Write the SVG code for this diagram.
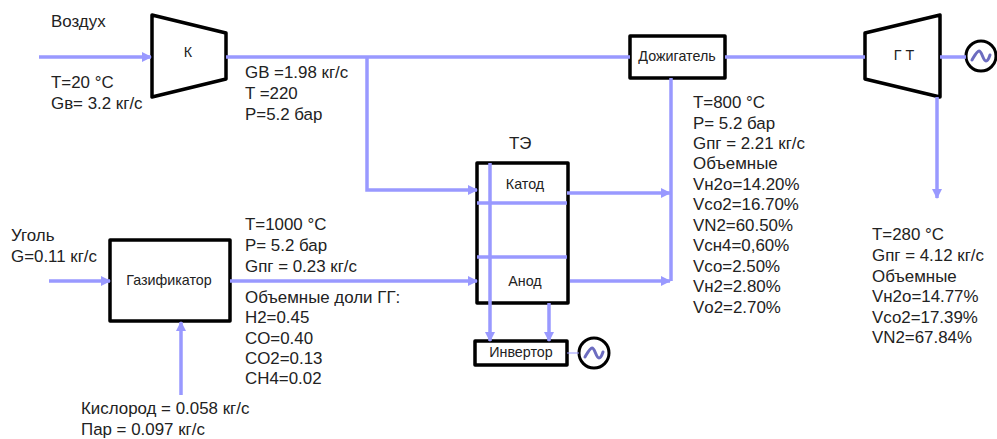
<svg xmlns="http://www.w3.org/2000/svg" width="997" height="439" viewBox="0 0 997 439">
<style>
text{font-family:"Liberation Sans",Arial,sans-serif;font-size:16.9px;fill:#222}
.s{font-size:14.3px}
.b{fill:#fff;stroke:#000;stroke-width:3.5;stroke-linejoin:round}
.c{fill:none;stroke:#9999ff;stroke-width:3.5}
.g{fill:#fff;stroke:#000;stroke-width:3}
.w{fill:none;stroke:#6c6cc0;stroke-width:3;stroke-linecap:round}
.m{text-anchor:middle}
</style>
<defs><marker id="a" markerUnits="userSpaceOnUse" markerWidth="10" markerHeight="10" refX="9" refY="5" orient="auto"><path d="M0 0L10 5L0 10Z" fill="#9999ff"/></marker></defs>
<rect width="997" height="439" fill="#fff"/>
<g id="nodes">
<g id="compressor"><polygon class="b" points="152,15 226,33 226,79 152,97"/><text class="s m" x="188" y="57">К</text></g>
<g id="afterburner"><rect class="b" x="630" y="36" width="95" height="42"/><text class="s m" x="677" y="61">Дожигатель</text></g>
<g id="turbine"><polygon class="b" points="865,33 940,15 940,97 865,79"/><text class="s m" x="904" y="60">Г Т</text></g>
<g id="fuel-cell"><rect class="b" x="477" y="163" width="91" height="140"/><text class="s m" x="525" y="189">Катод</text><text class="s m" x="525" y="286">Анод</text></g>
<g id="gasifier"><rect class="b" x="110" y="240" width="120" height="81"/><text class="s m" x="169" y="285">Газификатор</text></g>
<g id="inverter"><rect class="b" x="475" y="341" width="92" height="24"/><text class="s m" x="521" y="357">Инвертор</text></g>
<g id="generator1"><circle class="g" cx="594" cy="353" r="15"/><path class="w" d="M585 357C588 352 590 348 592 348C595 348 596 358 599 358C601 358 602 355 603 352"/></g>
<g id="generator2"><circle class="g" cx="981" cy="56" r="15"/><path class="w" d="M972 60C975 55 977 51 979 51C982 51 983 61 986 61C988 61 989 58 990 55"/></g>
</g>
<g id="connectors">
<path class="c" marker-end="url(#a)" d="M39 57H151"/>
<path class="c" d="M226 57H630"/>
<path class="c" marker-end="url(#a)" d="M367 57V190H477"/>
<path class="c" d="M725 57H865"/>
<path class="c" d="M940 57H966"/>
<path class="c" marker-end="url(#a)" d="M937 97V198"/>
<path class="c" d="M671 78V281"/>
<path class="c" marker-end="url(#a)" d="M567 193H670"/>
<path class="c" marker-end="url(#a)" d="M570 281H670"/>
<path class="c" d="M477 203H567"/>
<path class="c" d="M477 257H567"/>
<path class="c" marker-end="url(#a)" d="M490 163V341"/>
<path class="c" marker-end="url(#a)" d="M549 303V341"/>
<path class="c" style="stroke-width:1" d="M567 353H579"/>
<path class="c" marker-end="url(#a)" d="M49 281H110"/>
<path class="c" marker-end="url(#a)" d="M230 281H477"/>
<path class="c" marker-end="url(#a)" d="M181 395V322"/>
</g>
<g id="labels">
<text x="51" y="27">Воздух</text>
<text x="51" y="88">T=20 °C</text>
<text x="51" y="109">Gв= 3.2 кг/с</text>
<text x="245" y="78">GB =1.98 кг/с</text>
<text x="245" y="99">T =220</text>
<text x="245" y="120">P=5.2 бар</text>
<text x="509" y="149">ТЭ</text>
<text x="11" y="241">Уголь</text>
<text x="11" y="262">G=0.11 кг/с</text>
<text x="245" y="230">T=1000 °C</text>
<text x="245" y="251">P= 5.2 бар</text>
<text x="245" y="272">Gпг = 0.23 кг/с</text>
<text x="245" y="303">Объемные доли ГГ:</text>
<text x="245" y="323">H2=0.45</text>
<text x="245" y="344">CO=0.40</text>
<text x="245" y="364">CO2=0.13</text>
<text x="245" y="384">CH4=0.02</text>
<text x="81" y="414">Кислород = 0.058 кг/с</text>
<text x="81" y="435">Пар = 0.097 кг/с</text>
<text x="693" y="108">T=800 °C</text>
<text x="693" y="129">P= 5.2 бар</text>
<text x="693" y="149">Gпг = 2.21 кг/с</text>
<text x="693" y="169">Объемные</text>
<text x="693" y="190">Vн2о=14.20%</text>
<text x="693" y="210">Vсо2=16.70%</text>
<text x="693" y="231">VN2=60.50%</text>
<text x="693" y="251">Vсн4=0,60%</text>
<text x="693" y="272">Vсо=2.50%</text>
<text x="693" y="292">Vн2=2.80%</text>
<text x="693" y="313">Vо2=2.70%</text>
<text x="872" y="240">T=280 °C</text>
<text x="872" y="261">Gпг = 4.12 кг/с</text>
<text x="872" y="282">Объемные</text>
<text x="872" y="302">Vн2о=14.77%</text>
<text x="872" y="323">Vсо2=17.39%</text>
<text x="872" y="343">VN2=67.84%</text>
</g>
</svg>
